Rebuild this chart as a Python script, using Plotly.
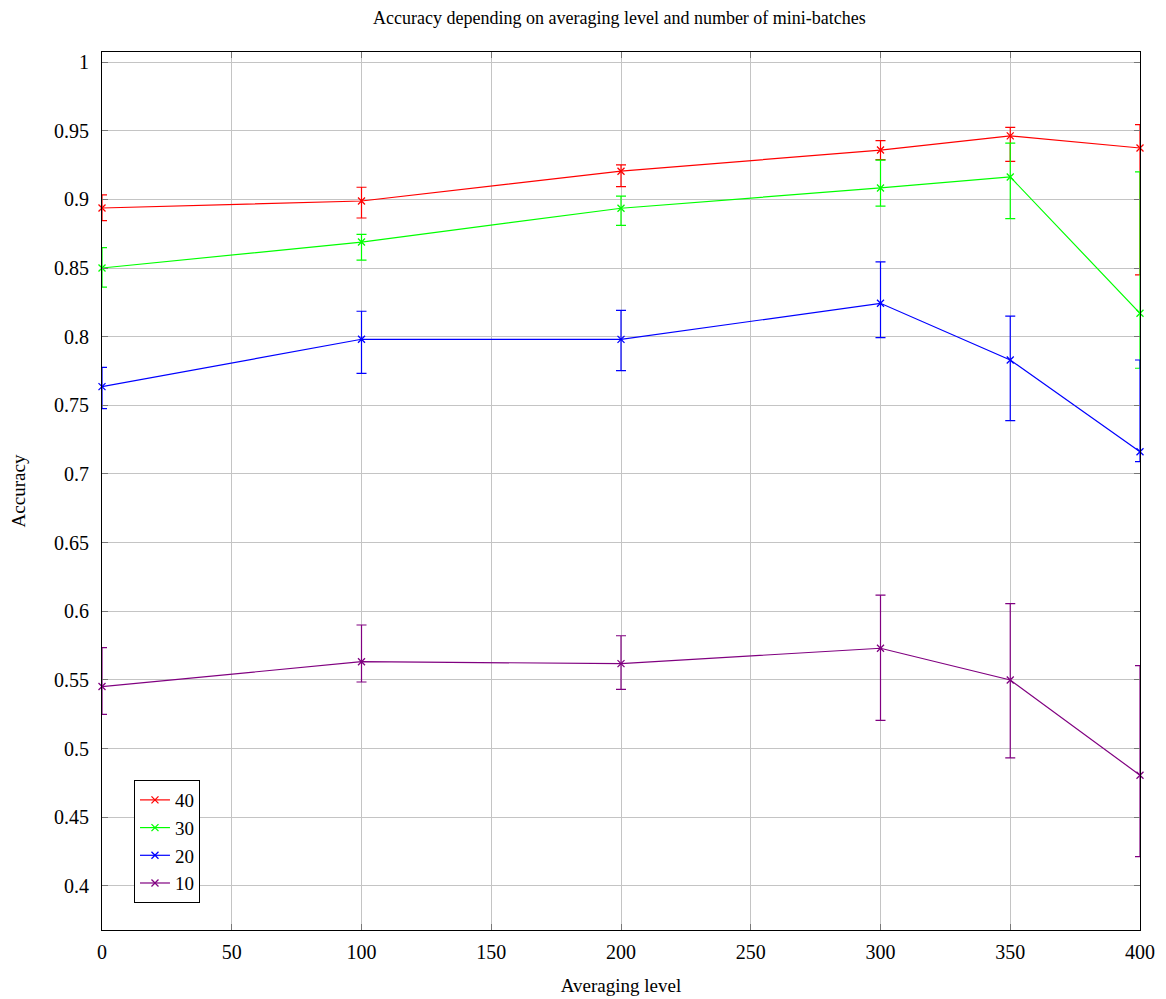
import plotly.graph_objects as go

x_levels = [0, 100, 200, 300, 350, 400]

series_names = ["40", "30", "20", "10"]
series_colors = ["#ff0000", "#00ff00", "#0000ff", "#800080"]

acc_40 = [0.8937, 0.8988, 0.9205, 0.9359, 0.9462, 0.9374]
err_plus_40 = [0.0095, 0.0100, 0.0046, 0.0068, 0.0062, 0.0170]
err_minus_40 = [0.0092, 0.0124, 0.0113, 0.0070, 0.0185, 0.0924]

acc_30 = [0.8500, 0.8689, 0.8935, 0.9083, 0.9163, 0.8170]
err_plus_30 = [0.0148, 0.0056, 0.0089, 0.0203, 0.0247, 0.1030]
err_minus_30 = [0.0140, 0.0131, 0.0125, 0.0132, 0.0304, 0.0400]

acc_20 = [0.7636, 0.7981, 0.7980, 0.8243, 0.7830, 0.7162]
err_plus_20 = [0.0141, 0.0204, 0.0212, 0.0301, 0.0320, 0.0668]
err_minus_20 = [0.0160, 0.0248, 0.0228, 0.0250, 0.0442, 0.0072]

acc_10 = [0.5452, 0.5633, 0.5619, 0.5731, 0.5500, 0.4806]
err_plus_10 = [0.0283, 0.0267, 0.0203, 0.0386, 0.0556, 0.0798]
err_minus_10 = [0.0202, 0.0148, 0.0187, 0.0525, 0.0568, 0.0593]

y_tick_vals = [0.4, 0.45, 0.5, 0.55, 0.6, 0.65, 0.7, 0.75, 0.8, 0.85, 0.9, 0.95, 1.0]
y_tick_text = ["0.4", "0.45", "0.5", "0.55", "0.6", "0.65", "0.7", "0.75", "0.8", "0.85", "0.9", "0.95", "1"]
x_tick_vals = [0, 50, 100, 150, 200, 250, 300, 350, 400]

values = [acc_40, acc_30, acc_20, acc_10]
plus = [err_plus_40, err_plus_30, err_plus_20, err_plus_10]
minus = [err_minus_40, err_minus_30, err_minus_20, err_minus_10]

FONT = "Liberation Serif"

fig = go.Figure()
for name, color, ys, ep, em in zip(series_names, series_colors, values, plus, minus):
    fig.add_trace(go.Scatter(
        x=x_levels, y=ys, name=name, mode="lines+markers",
        line=dict(color=color, width=1.2),
        marker=dict(symbol="x-thin", size=7, line=dict(color=color, width=1.3)),
        error_y=dict(type="data", symmetric=False, array=ep, arrayminus=em,
                     color=color, thickness=1.2, width=5),
        cliponaxis=False,
    ))

fig.update_layout(
    width=1158, height=991,
    margin=dict(l=94, r=26, t=44, b=69),
    paper_bgcolor="white", plot_bgcolor="white",
    font=dict(family=FONT, size=20, color="black"),
    title=dict(text="Accuracy depending on averaging level and number of mini-batches",
               x=0.528, xanchor="center", xref="container",
               y=1.0, yanchor="top", yref="container", pad=dict(t=3, b=0),
               font=dict(family=FONT, size=18)),
    showlegend=True,
    legend=dict(x=0.0308, y=0.0307, xanchor="left", yanchor="bottom",
                bgcolor="white", bordercolor="black", borderwidth=1,
                font=dict(family=FONT, size=19), itemwidth=30,
                tracegroupgap=3),
    xaxis=dict(range=[0, 400], tickvals=x_tick_vals, showgrid=True,
               gridcolor="#c4c4c4", gridwidth=1, zeroline=False,
               showline=True, linecolor="black", linewidth=1.2, mirror="ticks",
               ticks="inside", ticklen=6, tickcolor="#777777",
               ticklabelstandoff=4, automargin=False,
               title=dict(text="Averaging level", standoff=16,
                          font=dict(family=FONT, size=19))),
    yaxis=dict(range=[0.3679, 1.0073], tickvals=y_tick_vals, ticktext=y_tick_text,
               showgrid=True, gridcolor="#c4c4c4", gridwidth=1, zeroline=False,
               showline=True, linecolor="black", linewidth=1.2, mirror="ticks",
               ticks="inside", ticklen=6, tickcolor="#777777",
               ticklabelstandoff=8, automargin=False,
               title=dict(text="Accuracy", standoff=28,
                          font=dict(family=FONT, size=19))),
)

fig.write_html("out.html")
